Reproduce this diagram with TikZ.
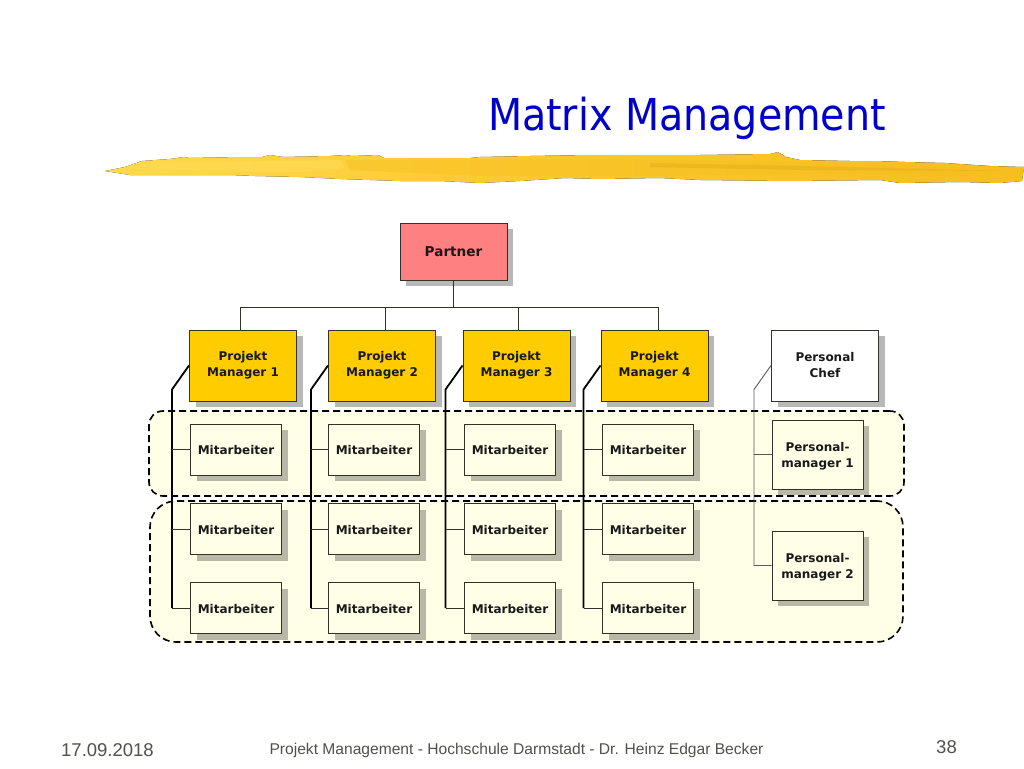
\documentclass[tikz,border=0pt]{standalone}
\usepackage{fontspec}
\setmainfont{DejaVu Sans}
\newfontfamily\titlefont{DejaVu Sans Condensed}
\newfontfamily\footfont{Liberation Sans}
\usetikzlibrary{shadows}
\definecolor{TitleBlue}{RGB}{0,0,204}
\definecolor{PaleBand}{RGB}{255,255,232}
\definecolor{PartnerRed}{RGB}{255,128,128}
\definecolor{ManagerGold}{RGB}{255,204,0}
\definecolor{FootGrey}{RGB}{80,80,76}
\definecolor{EdgeGrey}{RGB}{50,50,40}
\definecolor{BrushLight}{RGB}{255,217,80}
\definecolor{BrushMid}{RGB}{250,200,45}
\definecolor{BrushDark}{RGB}{246,190,30}
\tikzset{
  orgbox/.style={draw=EdgeGrey,line width=1pt,inner sep=0pt,align=center,
    font=\fontsize{12}{16}\selectfont\bfseries,text=black!90,
    drop shadow={shadow xshift=6pt,shadow yshift=-6pt,fill=black,opacity=.28}},
  chiefbox/.style={orgbox,minimum width=107pt,minimum height=71pt},
  staffbox/.style={orgbox,fill=PaleBand,minimum width=91pt,minimum height=51pt,text height=11pt},
  hrbox/.style={orgbox,fill=PaleBand,minimum width=91pt,minimum height=69pt},
  bandbox/.style={draw=black,fill=PaleBand,line width=1.6pt,dash pattern=on 7pt off 4pt,inner sep=0pt},
  busline/.style={draw=EdgeGrey,line width=0.9pt},
  staffline/.style={draw=black,line width=1.8pt},
  footnode/.style={font=\footfont\fontsize{15.6}{19}\selectfont,text=FootGrey},
}
\begin{document}
\begin{tikzpicture}[x=1pt,y=-1pt]
\useasboundingbox (0,0) rectangle (1024,768);
% brush stroke under the title
\fill[left color=BrushLight,right color=BrushDark,middle color=BrushMid]
  (105,171) -- (125,167) -- (142,161) -- (170,159) -- (184,157) -- (190,158) -- (240,157) -- (262,157) -- (270,155)
  -- (283,157) -- (330,156) -- (345,155) -- (352,156) -- (378,155) -- (384,158) -- (470,158) -- (480,157) -- (530,156)
  -- (590,155) -- (640,155) -- (700,155) -- (770,154) -- (778,152) -- (786,157) -- (800,160) -- (850,161) -- (875,161)
  -- (905,162) -- (945,163) -- (990,166) -- (1024,167) -- (1022,181) -- (1000,183) -- (960,182) -- (900,183) -- (880,180)
  -- (790,181) -- (700,180) -- (660,178) -- (600,179) -- (565,178) -- (520,181) -- (480,183) -- (440,181) -- (400,181)
  -- (340,179) -- (300,177) -- (255,176) -- (230,175) -- (130,175) -- cycle;
\fill[BrushDark,opacity=.4] (345,160) -- (600,159) -- (785,161) -- (1000,170) -- (1000,176) -- (780,175) -- (600,176) -- (480,176) -- (350,170) -- cycle;
\fill[black!15!BrushDark,opacity=.3] (650,163) -- (800,166) -- (1010,171) -- (800,170) -- (650,167) -- cycle;
\fill[BrushLight,opacity=.8] (150,163) -- (340,160) -- (345,168) -- (300,172) -- (150,171) -- cycle;
\node[font=\titlefont\fontsize{44}{54}\selectfont,text=TitleBlue,anchor=base] (title) at (687,130) {Matrix Management};
% bands
\node[bandbox,rounded corners=14pt,minimum width=755pt,minimum height=85pt] (band1) at (526.5,453.5) {};
\node[bandbox,rounded corners=26pt,minimum width=753pt,minimum height=141pt] (band2) at (526.5,571.5) {};
% top of the tree
\node[chiefbox,fill=PartnerRed,minimum height=57pt,font=\fontsize{13.6}{16}\selectfont\bfseries] (partner) at (453.5,251.5) {Partner};
\coordinate (bus) at (453.5,307);
\foreach \n/\x in {1/243,2/382,3/516.5,4/654.5}
  \node[chiefbox,fill=ManagerGold] (pm\n) at (\x,365.5) {Projekt\\Manager \n};
\node[chiefbox,fill=white] (chef) at (825,365.5) {Personal\\Chef};
\draw[busline] (partner.south) -- (bus);
\draw[busline] (bus) -| ([xshift=-3pt]pm1.north);
\draw[busline] (bus) -| ([xshift=3pt]pm2.north);
\draw[busline] (bus) -| ([xshift=2pt]pm3.north);
\draw[busline] (bus) -| ([xshift=3.5pt]pm4.north);
% staff columns
\foreach \n/\x in {1/236,2/374,3/510,4/648}{
  \node[staffbox] (ma\n1) at (\x,449.5) {Mitarbeiter};
  \node[staffbox] (ma\n2) at (\x,529) {Mitarbeiter};
  \node[staffbox] (ma\n3) at (\x,608) {Mitarbeiter};
  \draw[staffline] (pm\n.west) -- ++(-17,24) coordinate (knee\n) -- (knee\n |- ma\n3.west);
  \draw[busline] (knee\n |- ma\n1.west) -- (ma\n1.west);
  \draw[busline] (knee\n |- ma\n2.west) -- (ma\n2.west);
  \draw[busline] (knee\n |- ma\n3.west) -- (ma\n3.west);
}
% personal column
\node[hrbox] (hr1) at (817.5,454.5) {\rule{0pt}{13pt}Personal-\\manager 1};
\node[hrbox] (hr2) at (817.5,565.5) {\rule{0pt}{13pt}Personal-\\manager 2};
\draw[busline,draw=black!65] (chef.west) -- ++(-17,24) coordinate (kneehr) |- (hr2.west);
\draw[busline,draw=black!65] (kneehr |- hr1.west) -- (hr1.west);
% footer
\node[footnode,anchor=base,font=\footfont\fontsize{18.5}{22}\selectfont] (date) at (107.5,756) {17.09.2018};
\node[footnode,anchor=base] (course) at (516.5,754) {Projekt Management - Hochschule Darmstadt - Dr. Heinz Edgar Becker};
\node[footnode,anchor=base,font=\footfont\fontsize{18.5}{22}\selectfont] (page) at (946.5,753) {38};
\end{tikzpicture}
\end{document}
